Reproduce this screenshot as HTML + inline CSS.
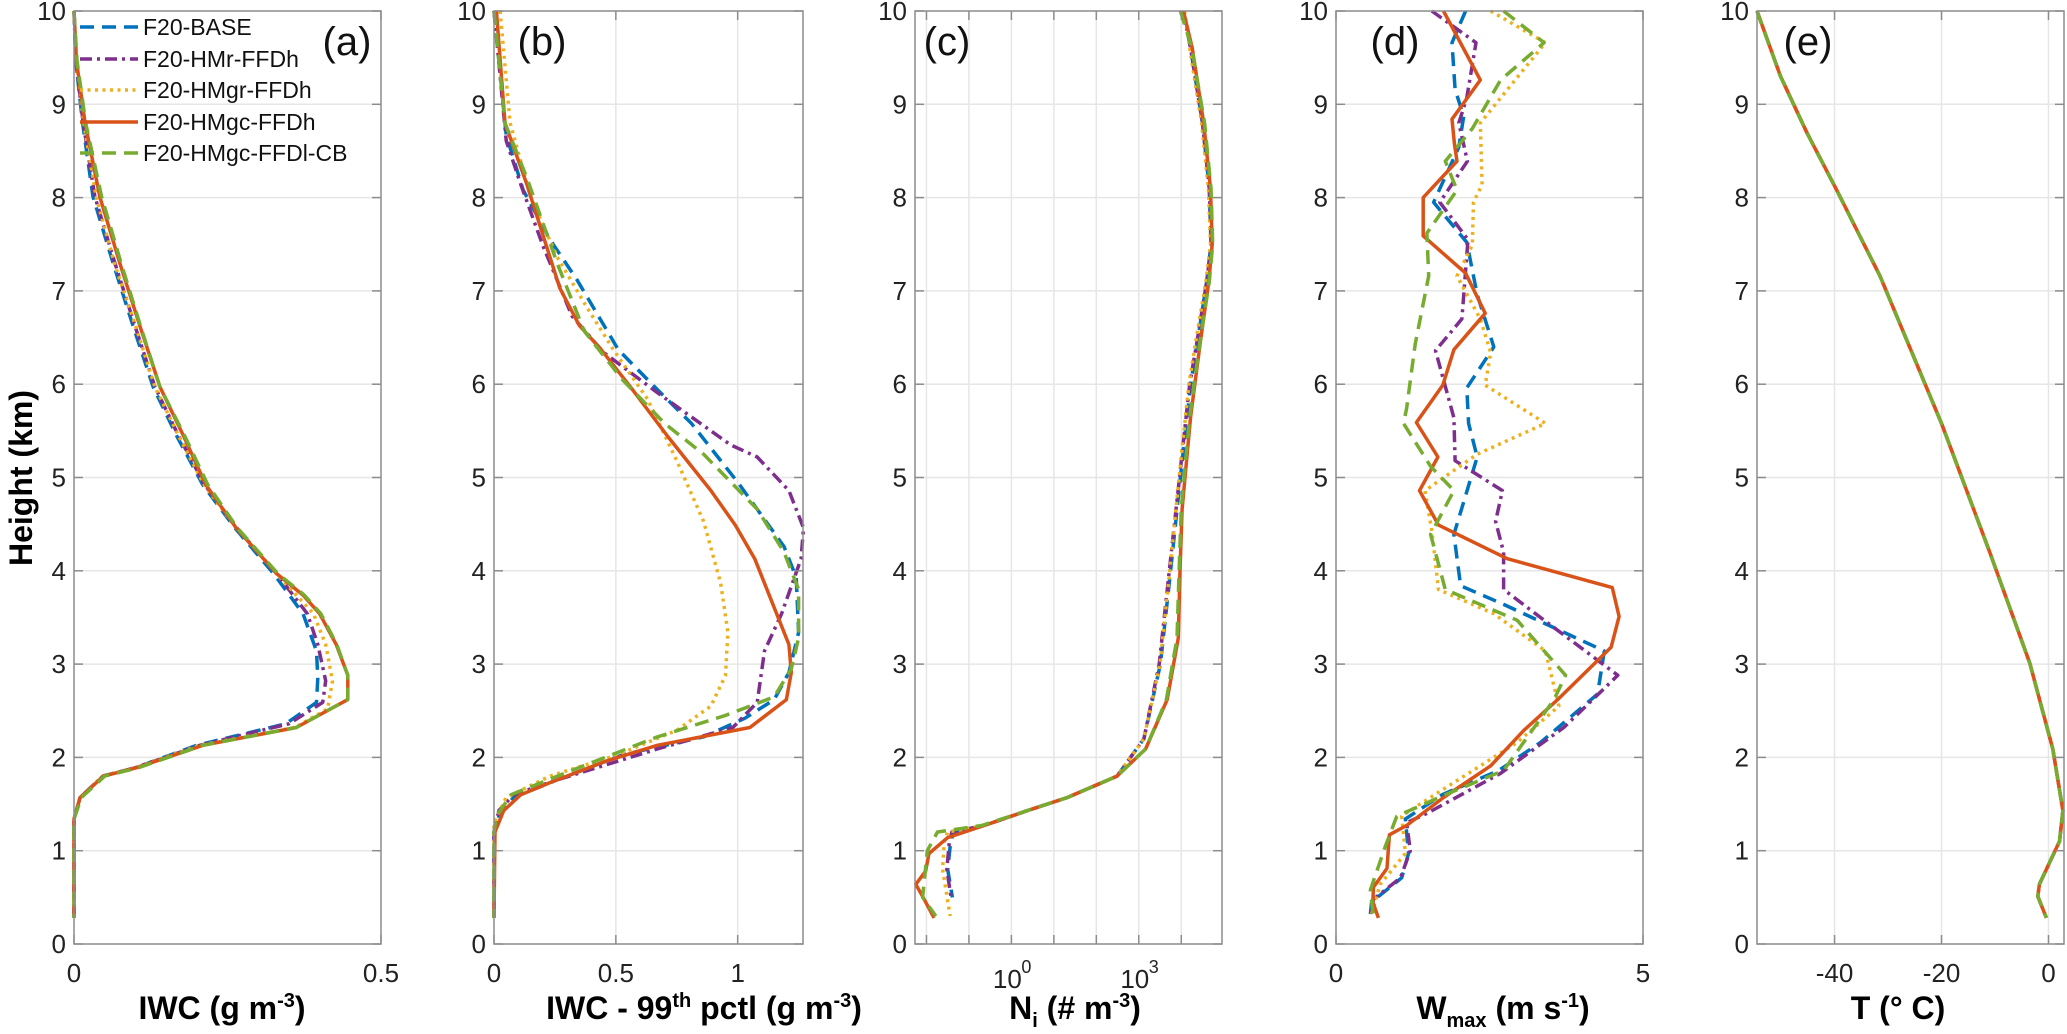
<!DOCTYPE html>
<html>
<head>
<meta charset="utf-8">
<style>
  html,body{margin:0;padding:0;background:#fff;}
  svg{display:block;font-family:"Liberation Sans",Arial,sans-serif;}
</style>
</head>
<body>
<svg id="fig" width="2067" height="1034" viewBox="0 0 2067 1034" xmlns="http://www.w3.org/2000/svg"></svg>
<script>
// ---------- data ----------
const heightTicks = [0,1,2,3,4,5,6,7,8,9,10];
const seriesNames = ["F20-BASE","F20-HMr-FFDh","F20-HMgr-FFDh","F20-HMgc-FFDh","F20-HMgc-FFDl-CB"];

// (a) IWC [height km, g m-3]
const iwcBase = [[10,0],[9.46,0.003],[8.8,0.014],[8.01,0.031],[7.29,0.064],[6.63,0.096],[5.97,0.129],[5.45,0.167],[4.92,0.21],[4.46,0.262],[3.97,0.325],[3.54,0.373],[3.14,0.395],[2.85,0.397],[2.59,0.395],[2.36,0.345],[2.13,0.2],[1.89,0.1],[1.8,0.047],[1.57,0.01],[1.34,0],[0.28,0]];
const iwcHMr = [[10,0],[9.46,0.003],[8.8,0.015],[8.01,0.034],[7.29,0.067],[6.63,0.099],[5.97,0.132],[5.45,0.17],[4.92,0.213],[4.46,0.265],[3.97,0.33],[3.54,0.38],[3.21,0.397],[2.82,0.41],[2.59,0.405],[2.36,0.35],[2.13,0.205],[1.89,0.1],[1.8,0.047],[1.57,0.01],[1.34,0],[0.28,0]];
const iwcHMgr = [[10,0],[9.46,0.004],[8.8,0.016],[8.01,0.036],[7.29,0.066],[6.63,0.1],[5.97,0.132],[5.45,0.17],[4.92,0.212],[4.46,0.264],[3.97,0.33],[3.54,0.39],[3.21,0.41],[2.82,0.421],[2.52,0.413],[2.32,0.36],[2.13,0.205],[1.89,0.1],[1.8,0.047],[1.57,0.01],[1.34,0],[0.28,0]];
const iwcHMgc = [[10,0],[9.46,0.004],[8.8,0.018],[8.01,0.042],[7.29,0.075],[6.63,0.107],[5.97,0.14],[5.45,0.178],[4.92,0.215],[4.46,0.264],[3.97,0.33],[3.74,0.373],[3.54,0.4],[3.21,0.427],[2.88,0.446],[2.62,0.446],[2.32,0.362],[2.13,0.21],[1.89,0.102],[1.8,0.048],[1.57,0.01],[1.34,0],[0.28,0]];
const iwcCB = [[10,0],[9.46,0.005],[8.8,0.019],[8.01,0.045],[7.29,0.077],[6.63,0.108],[5.97,0.14],[5.45,0.18],[4.92,0.218],[4.46,0.266],[3.97,0.332],[3.74,0.375],[3.54,0.402],[3.21,0.428],[2.88,0.446],[2.62,0.446],[2.32,0.362],[2.13,0.21],[1.89,0.105],[1.8,0.05],[1.57,0.012],[1.34,0],[0.28,0]];

// (b) IWC 99th pctl
const p99Base = [[10,0],[8.67,0.05],[8.08,0.12],[7.55,0.23],[7.12,0.34],[6.37,0.51],[5.97,0.66],[5.58,0.81],[4.95,1.0],[4.26,1.19],[3.93,1.24],[3.34,1.25],[2.91,1.21],[2.62,1.15],[2.42,1.03],[2.22,0.86],[2.03,0.53],[1.76,0.26],[1.57,0.08],[1.37,0.02],[1.2,0],[0.28,0]];
const p99HMr = [[10,0],[8.61,0.05],[8.14,0.11],[7.49,0.2],[6.73,0.32],[6.34,0.45],[5.91,0.67],[5.35,0.97],[5.22,1.08],[4.86,1.21],[4.46,1.27],[4.13,1.26],[3.54,1.18],[3.14,1.11],[2.59,1.08],[2.32,0.98],[2.09,0.67],[1.76,0.26],[1.6,0.08],[1.43,0.02],[1.2,0],[0.28,0]];
const p99HMgr = [[10,0.025],[8.8,0.066],[8.01,0.15],[7.36,0.26],[6.83,0.38],[6.37,0.49],[5.84,0.63],[5.18,0.75],[4.53,0.86],[3.87,0.93],[3.34,0.96],[2.88,0.95],[2.55,0.89],[2.29,0.75],[2.03,0.51],[1.8,0.23],[1.57,0.05],[1.3,0],[0.28,0]];
const p99HMgc = [[10,0.01],[8.8,0.045],[8.14,0.135],[7.03,0.27],[6.63,0.35],[6.37,0.44],[5.97,0.56],[5.45,0.71],[4.86,0.89],[4.49,0.99],[4.13,1.07],[3.21,1.21],[2.91,1.22],[2.62,1.2],[2.32,1.05],[2.13,0.67],[1.96,0.46],[1.73,0.23],[1.6,0.11],[1.43,0.04],[1.2,0.004],[0.28,0]];
const p99CB = [[10,0],[8.8,0.045],[8.21,0.135],[7.29,0.26],[6.57,0.37],[6.04,0.53],[5.58,0.7],[5.25,0.86],[4.66,1.08],[4.2,1.19],[3.8,1.25],[3.28,1.25],[2.95,1.22],[2.65,1.15],[2.45,0.95],[2.22,0.67],[1.8,0.26],[1.6,0.07],[1.37,0.01],[1.2,0],[0.28,0]];

// (c) log10 Ni
const niBase = [[10,4.05],[9.6,4.22],[8.8,4.5],[8.1,4.66],[7.5,4.7],[7.1,4.6],[6.45,4.38],[6.0,4.22],[5.0,3.98],[4.0,3.75],[3.0,3.51],[2.2,3.12],[1.8,2.49],[1.57,1.32],[1.43,0.38],[1.27,-0.64],[1.2,-1.35],[1.1,-1.43],[0.8,-1.5],[0.5,-1.39]];
const niHMr = [[10,4.05],[9.6,4.22],[8.8,4.5],[8.1,4.66],[7.5,4.71],[7.1,4.6],[6.45,4.37],[6.0,4.2],[5.0,3.96],[4.0,3.72],[3.0,3.48],[2.2,3.12],[1.8,2.49],[1.57,1.32],[1.43,0.38],[1.27,-0.64],[1.2,-1.4],[1.1,-1.46],[0.8,-1.52],[0.5,-1.42]];
const niHMgr = [[10,4.08],[9.6,4.2],[8.8,4.48],[8.1,4.64],[7.5,4.69],[7.1,4.58],[6.45,4.34],[6.0,4.18],[5.0,3.95],[4.0,3.73],[3.0,3.5],[2.2,3.12],[1.8,2.49],[1.57,1.32],[1.43,0.38],[1.27,-0.64],[1.2,-1.5],[1.1,-1.58],[0.8,-1.62],[0.3,-1.44]];
const niHMgc = [[10,4.05],[9.6,4.26],[8.8,4.53],[8.1,4.69],[7.5,4.73],[7.1,4.65],[6.45,4.45],[5.65,4.22],[4.66,4.02],[4.0,3.97],[3.28,3.93],[2.62,3.67],[2.09,3.16],[1.8,2.49],[1.57,1.32],[1.43,0.38],[1.27,-0.64],[1.14,-1.5],[0.97,-1.94],[0.78,-2.02],[0.64,-2.25],[0.51,-2.09],[0.28,-1.82]];
const niCB = [[10,3.98],[9.6,4.25],[8.8,4.55],[8.1,4.7],[7.5,4.74],[7.1,4.66],[6.45,4.44],[5.65,4.2],[4.66,4.0],[4.0,3.95],[3.28,3.9],[2.62,3.65],[2.09,3.16],[1.8,2.49],[1.57,1.32],[1.43,0.38],[1.27,-0.7],[1.2,-1.74],[1.0,-1.98],[0.5,-2.09],[0.3,-1.78]];
const niTickExp = [-2,-1,0,1,2,3,4];
const niLabelExp = [0,3];

// (d) Wmax m s-1
const wBase = [[10,2.11],[9.66,1.89],[9.16,1.94],[8.87,2.08],[8.54,2.0],[7.95,1.59],[7.52,2.13],[6.96,2.3],[6.4,2.57],[5.96,2.13],[5.58,2.16],[5.22,2.3],[4.39,1.92],[3.84,2.03],[3.64,2.73],[3.14,4.37],[2.68,4.26],[2.16,3.33],[1.86,2.65],[1.6,1.73],[1.34,1.13],[0.97,1.18],[0.71,1.07],[0.45,0.58],[0.32,0.56]];
const wHMr = [[10,1.56],[9.66,2.28],[9.07,2.13],[8.8,2.0],[8.39,2.14],[7.95,1.69],[7.55,2.15],[6.7,2.05],[6.36,1.62],[5.64,1.92],[5.18,1.94],[4.86,2.71],[4.53,2.6],[4.2,2.73],[3.8,2.73],[3.47,3.39],[2.88,4.59],[2.32,3.71],[1.83,2.68],[1.4,1.48],[1.3,1.15],[1.0,1.21],[0.71,1.05],[0.48,0.61],[0.32,0.56]];
const wHMgr = [[10,2.52],[9.66,3.41],[8.8,2.35],[8.14,2.38],[7.95,2.24],[7.49,2.22],[7.16,1.97],[6.7,2.35],[6.34,2.52],[5.99,2.43],[5.58,3.41],[5.25,2.3],[4.86,1.45],[4.43,1.56],[3.8,1.67],[3.54,2.57],[3.14,3.41],[2.55,3.63],[2.16,2.95],[1.5,1.37],[1.37,1.07],[0.97,1.13],[0.64,0.72],[0.32,0.58]];
const wHMgc = [[10,1.75],[9.26,2.35],[8.84,1.89],[8.57,1.93],[8.39,1.97],[8.0,1.42],[7.59,1.42],[7.19,2.11],[6.76,2.43],[6.37,1.92],[5.99,1.74],[5.59,1.31],[5.22,1.66],[4.86,1.36],[4.49,1.67],[4.13,2.79],[3.82,4.5],[3.51,4.61],[3.18,4.48],[2.62,3.61],[2.29,3.06],[1.91,2.52],[1.57,1.75],[1.27,1.15],[1.17,0.87],[0.81,0.83],[0.61,0.61],[0.45,0.6],[0.28,0.69]];
const wCB = [[10,2.73],[9.66,3.39],[9.26,2.68],[8.74,2.22],[8.39,1.78],[8.08,1.97],[7.62,1.48],[7.16,1.51],[6.43,1.29],[5.74,1.15],[5.58,1.1],[5.12,1.54],[4.86,1.92],[4.39,1.54],[3.8,1.78],[3.47,2.95],[2.88,3.74],[2.62,3.55],[1.86,2.73],[1.6,1.78],[1.37,0.99],[1.04,0.8],[0.58,0.56],[0.28,0.61]];

// (e) temperature °C (all runs overlap)
const tempProfile = [[10,-54.5],[9.3,-50.1],[8.7,-45.2],[8.08,-39.6],[7.16,-31.5],[5.58,-20],[4.2,-11],[3.01,-3.5],[2.09,0.8],[1.43,2.7],[1.1,2.05],[0.64,-1.7],[0.51,-2],[0.28,-0.4]];

const aTicks = [0,0.5]; const aTickLabels = ["0","0.5"];
const bTicks = [0,0.5,1]; const bTickLabels = ["0","0.5","1"];
const dTicks = [0,5]; const dTickLabels = ["0","5"];
const eTicks = [-40,-20,0]; const eTickLabels = ["-40","-20","0"];

// ---------- drawing ----------
const NS = "http://www.w3.org/2000/svg";
const svg = document.getElementById("fig");
const Y0 = 944, Y10 = 11;
function yS(h){ return Y0 + (Y10 - Y0) * h / 10; }
function mk(tag, attrs, parent){
  const e = document.createElementNS(NS, tag);
  for (const k in attrs) e.setAttribute(k, attrs[k]);
  (parent || svg).appendChild(e);
  return e;
}
const styles = [
  {color:"#0072BD", dash:"14 8"},
  {color:"#7E2F8E", dash:"12 5 3 5"},
  {color:"#EDB120", dash:"3 4.5"},
  {color:"#D95319", dash:""},
  {color:"#77AC30", dash:"14 8"}
];
const panels = [
  {id:"a", L:74, R:381, min:0, max:0.5, ticks:aTicks, labels:aTickLabels, data:[iwcBase,iwcHMr,iwcHMgr,iwcHMgc,iwcCB], lab:[347,52]},
  {id:"b", L:494, R:803, min:0, max:1.268, ticks:bTicks, labels:bTickLabels, data:[p99Base,p99HMr,p99HMgr,p99HMgc,p99CB], lab:[542,52]},
  {id:"c", L:915, R:1222, min:-2.27, max:4.96, ticks:niTickExp, labels:null, data:[niBase,niHMr,niHMgr,niHMgc,niCB], lab:[947,52]},
  {id:"d", L:1336, R:1643, min:0, max:5, ticks:dTicks, labels:dTickLabels, data:[wBase,wHMr,wHMgr,wHMgc,wCB], lab:[1395,52]},
  {id:"e", L:1757, R:2064, min:-54.5, max:2.9, ticks:eTicks, labels:eTickLabels, data:[tempProfile,tempProfile,tempProfile,tempProfile,tempProfile], lab:[1808,52]}
];

panels.forEach(p => {
  const xS = v => p.L + (p.R - p.L) * (v - p.min) / (p.max - p.min);
  const g = mk("g", {});
  
  
  // grid
  heightTicks.forEach(h => {
    if (h === 0 || h === 10) return;
    const gl = mk("line", {x1:p.L, x2:p.R, y1:yS(h), y2:yS(h), stroke:"#e6e6e6", "stroke-width":1.5}, g);
    
    
  });
  p.ticks.forEach(t => {
    const x = xS(t);
    if (x <= p.L + 1 || x >= p.R - 1) return;
    const gl = mk("line", {x1:x, x2:x, y1:Y10, y2:Y0, stroke:"#e6e6e6", "stroke-width":1.5}, g);
    
    
  });
  // series
  p.data.forEach((ser, i) => {
    const pts = ser.map(d => xS(d[1]).toFixed(1) + "," + yS(d[0]).toFixed(1)).join(" ");
    const st = styles[i];
    const pl = mk("polyline", {points:pts, fill:"none", stroke:st.color, "stroke-width":3.5, "stroke-linejoin":"round"}, g);
    if (st.dash) pl.setAttribute("stroke-dasharray", st.dash);
    
    
  });
  // box
  const box = mk("rect", {x:p.L, y:Y10, width:p.R - p.L, height:Y0 - Y10, fill:"none", stroke:"#8c8c8c", "stroke-width":1.5}, g);
  
  
  // y ticks + labels
  heightTicks.forEach(h => {
    const y = yS(h);
    mk("line", {x1:p.L, x2:p.L + 9, y1:y, y2:y, stroke:"#8c8c8c", "stroke-width":1.5}, g);
    mk("line", {x1:p.R - 9, x2:p.R, y1:y, y2:y, stroke:"#8c8c8c", "stroke-width":1.5}, g);
    const t = mk("text", {x:p.L - 8, y:y + 9, "text-anchor":"end", "font-size":26, fill:"#222"}, g);
    t.textContent = h;
    
    
  });
  // x ticks
  p.ticks.forEach((tv, k) => {
    const x = xS(tv);
    mk("line", {x1:x, x2:x, y1:Y0, y2:Y0 - 9, stroke:"#8c8c8c", "stroke-width":1.5}, g);
    mk("line", {x1:x, x2:x, y1:Y10, y2:Y10 + 9, stroke:"#8c8c8c", "stroke-width":1.5}, g);
    if (p.labels) {
      const t = mk("text", {x:x, y:982, "text-anchor":"middle", "font-size":26, fill:"#222"}, g);
      t.textContent = p.labels[k];
      
      
    }
  });
  if (p.id === "c") {
    niLabelExp.forEach(ex => {
      const x = xS(ex);
      const t = mk("text", {x:x - 4, y:988, "text-anchor":"middle", "font-size":26, fill:"#222"}, g);
      t.textContent = "10";
      
      
      const s = mk("text", {x:x + 10, y:973, "font-size":18, fill:"#222"}, g);
      s.textContent = ex;
      
      
    });
  }
  // panel letter
  const pl = mk("text", {x:p.lab[0], y:p.lab[1] + 3, "text-anchor":"middle", "font-size":40, fill:"#111"}, g);
  pl.textContent = "(" + p.id + ")";
  
  
});

// legend
const legRows = [27, 59, 90, 122, 153];
legRows.forEach((y, i) => {
  const st = styles[i];
  const ln = mk("line", {x1:80, x2:138, y1:y, y2:y, stroke:st.color, "stroke-width":3.5});
  if (st.dash) ln.setAttribute("stroke-dasharray", st.dash);
  
  
  const t = mk("text", {x:143, y:y + 8, "font-size":23, fill:"#111"});
  t.textContent = seriesNames[i];
  
  
});
</script>

<!-- axis titles -->
<svg style="position:absolute;left:0;top:0" width="2067" height="1034" xmlns="http://www.w3.org/2000/svg" font-family="Liberation Sans, Arial, sans-serif" font-weight="bold" fill="#000">
  <text x="0" y="0" font-size="32" text-anchor="middle" transform="translate(32,478) rotate(-90)">Height (km)</text>
  <text x="222" y="1019" font-size="32" text-anchor="middle">IWC (g m<tspan font-size="20" dy="-12">-3</tspan><tspan dy="12">)</tspan></text>
  <text x="704" y="1019" font-size="32" text-anchor="middle">IWC - 99<tspan font-size="20" dy="-12">th</tspan><tspan dy="12"> pctl (g m</tspan><tspan font-size="20" dy="-12">-3</tspan><tspan dy="12">)</tspan></text>
  <text x="1075" y="1019" font-size="32" text-anchor="middle">N<tspan font-size="20" dy="8">i</tspan><tspan dy="-8"> (# m</tspan><tspan font-size="20" dy="-12">-3</tspan><tspan dy="12">)</tspan></text>
  <text x="1503" y="1019" font-size="32" text-anchor="middle">W<tspan font-size="20" dy="8">max</tspan><tspan dy="-8"> (m s</tspan><tspan font-size="20" dy="-12">-1</tspan><tspan dy="12">)</tspan></text>
  <text x="1898" y="1019" font-size="32" text-anchor="middle">T (° C)</text>
</svg>
<style>body{position:relative;}</style>
</body>
</html>
